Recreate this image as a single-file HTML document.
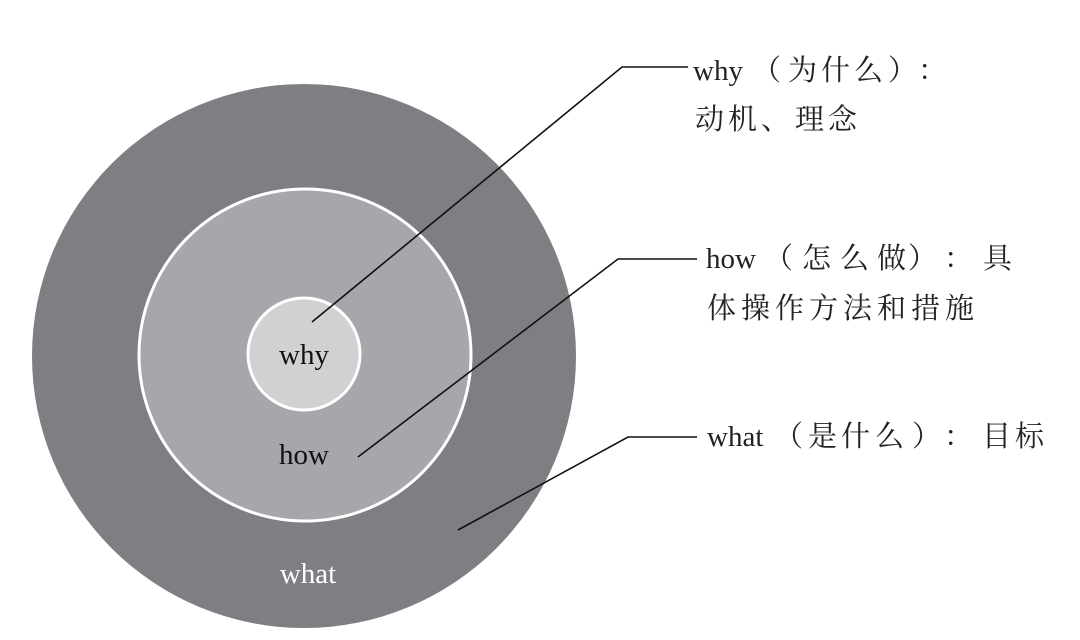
<!DOCTYPE html>
<html><head><meta charset="utf-8"><style>
html,body{margin:0;padding:0;background:#fff;}
svg{display:block;}
text{font-family:"Liberation Serif","Noto Serif CJK SC","Noto Sans CJK SC",serif;}
</style></head><body>
<svg width="1080" height="640" viewBox="0 0 1080 640" xmlns="http://www.w3.org/2000/svg">
<rect width="1080" height="640" fill="#fff"/>
<circle cx="304" cy="356" r="272" fill="#7d7f82"/>
<circle cx="305" cy="355" r="166" fill="#a5a7aa" stroke="#fff" stroke-width="3"/>
<circle cx="304" cy="354" r="56" fill="#d0d1d3" stroke="#fff" stroke-width="3"/>
<text x="304" y="364" font-size="29" text-anchor="middle" fill="#111">why</text>
<text x="304" y="464" font-size="29" text-anchor="middle" fill="#111">how</text>
<text x="308" y="583" font-size="29" text-anchor="middle" fill="#fff">what</text>
<g stroke="#111" stroke-width="1.6" fill="none">
<polyline points="312,322 622,67 688,67"/>
<polyline points="358,457 618,259 697,259"/>
<polyline points="458,530 628,437 697,437"/>
</g>
<g font-size="29" fill="#222">
<text y="80"><tspan x="693">why</tspan><tspan x="752">（</tspan><tspan x="788">为</tspan><tspan x="821">什</tspan><tspan x="854">么</tspan><tspan x="888">）</tspan><tspan x="918">：</tspan></text>
<text y="129"><tspan x="695">动</tspan><tspan x="728">机</tspan><tspan x="761">、</tspan><tspan x="795">理</tspan><tspan x="828">念</tspan></text>
<text y="268"><tspan x="706">how</tspan><tspan x="764">（</tspan><tspan x="802">怎</tspan><tspan x="840">么</tspan><tspan x="877">做</tspan><tspan x="908">）</tspan><tspan x="944">：</tspan><tspan x="983">具</tspan></text>
<text y="318"><tspan x="707">体</tspan><tspan x="741">操</tspan><tspan x="775">作</tspan><tspan x="809">方</tspan><tspan x="843">法</tspan><tspan x="877">和</tspan><tspan x="911">措</tspan><tspan x="945">施</tspan></text>
<text y="446"><tspan x="707">what</tspan><tspan x="774">（</tspan><tspan x="808">是</tspan><tspan x="841">什</tspan><tspan x="875">么</tspan><tspan x="912">）</tspan><tspan x="944">：</tspan><tspan x="982">目</tspan><tspan x="1015">标</tspan></text>
</g>
</svg>
</body></html>
